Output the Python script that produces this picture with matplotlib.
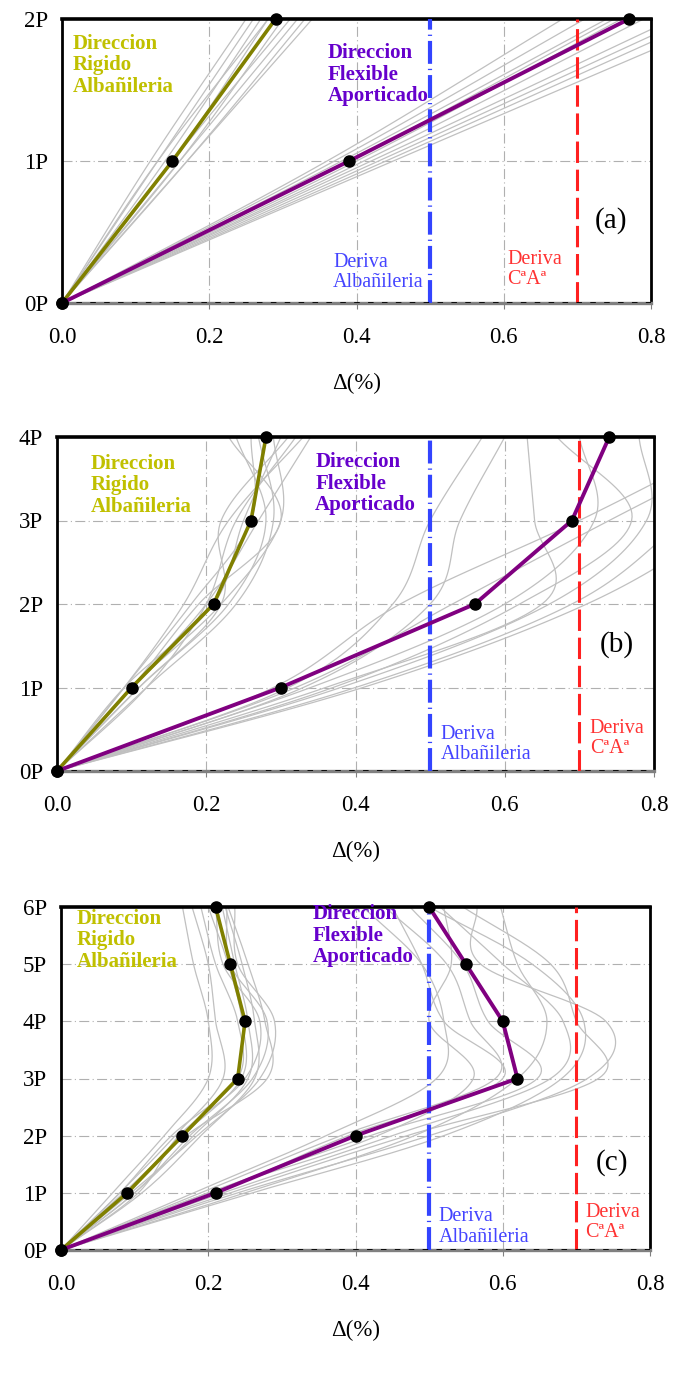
import numpy as np
import matplotlib
matplotlib.use("Agg")
import matplotlib.pyplot as plt

plt.rcParams['font.family'] = ['Liberation Serif', 'DejaVu Serif']

# ---- data: drift (%) at each level, one list per panel ----
# panel (a): 2 levels
levels_a = [0, 1, 2]
rigid_a = [0.0, 0.15, 0.29]
flex_a = [0.0, 0.39, 0.77]
gray_rigid_a = [[0.12, 0.25], [0.13, 0.26], [0.14, 0.27], [0.15, 0.28], [0.16, 0.30],
                [0.15, 0.31], [0.16, 0.32], [0.17, 0.33], [0.17, 0.34], [0.13, 0.28]]
gray_flex_a = [[0.36, 0.68], [0.37, 0.71], [0.38, 0.74], [0.39, 0.75], [0.40, 0.76],
               [0.42, 0.83], [0.43, 0.85], [0.44, 0.87], [0.45, 0.90], [0.41, 0.79]]

# panel (b): 4 levels
levels_b = [0, 1, 2, 3, 4]
rigid_b = [0.0, 0.10, 0.21, 0.26, 0.28]
flex_b = [0.0, 0.30, 0.56, 0.69, 0.74]
gray_rigid_b = [[0.09, 0.17, 0.23, 0.33], [0.10, 0.19, 0.30, 0.23], [0.11, 0.22, 0.22, 0.31],
                [0.12, 0.24, 0.29, 0.27], [0.10, 0.20, 0.27, 0.34], [0.09, 0.21, 0.25, 0.30],
                [0.11, 0.23, 0.28, 0.24], [0.12, 0.20, 0.24, 0.32], [0.10, 0.22, 0.30, 0.29],
                [0.09, 0.18, 0.26, 0.26]]
gray_flex_b = [[0.31, 0.45, 0.50, 0.57], [0.33, 0.50, 0.54, 0.60], [0.36, 0.65, 0.64, 0.63],
               [0.37, 0.62, 0.77, 0.67], [0.38, 0.66, 0.79, 0.78], [0.29, 0.46, 0.70, 0.92],
               [0.32, 0.53, 0.74, 0.96], [0.40, 0.69, 0.84, 0.98], [0.34, 0.60, 0.72, 0.70],
               [0.41, 0.71, 0.90, 1.05]]

# panel (c): 6 levels
levels_c = [0, 1, 2, 3, 4, 5, 6]
rigid_c = [0.0, 0.09, 0.165, 0.24, 0.25, 0.23, 0.21]
flex_c = [0.0, 0.21, 0.40, 0.62, 0.60, 0.55, 0.50]
gray_rigid_c = [[0.07, 0.14, 0.20, 0.20, 0.18, 0.165], [0.08, 0.155, 0.22, 0.21, 0.20, 0.178],
                [0.09, 0.165, 0.245, 0.246, 0.227, 0.20], [0.10, 0.18, 0.254, 0.254, 0.236, 0.219],
                [0.11, 0.19, 0.263, 0.263, 0.246, 0.223], [0.085, 0.17, 0.28, 0.277, 0.254, 0.227],
                [0.095, 0.185, 0.27, 0.29, 0.24, 0.236], [0.105, 0.16, 0.25, 0.27, 0.22, 0.21],
                [0.08, 0.15, 0.24, 0.24, 0.21, 0.19], [0.10, 0.175, 0.26, 0.28, 0.23, 0.225]]
gray_flex_c = [[0.18, 0.36, 0.51, 0.52, 0.49, 0.41], [0.19, 0.38, 0.59, 0.556, 0.524, 0.44],
               [0.20, 0.42, 0.647, 0.58, 0.546, 0.474], [0.22, 0.45, 0.665, 0.682, 0.60, 0.515],
               [0.23, 0.47, 0.73, 0.70, 0.665, 0.546], [0.24, 0.50, 0.715, 0.74, 0.57, 0.565],
               [0.25, 0.48, 0.62, 0.66, 0.62, 0.597], [0.21, 0.39, 0.60, 0.52, 0.49, 0.45],
               [0.26, 0.52, 0.68, 0.71, 0.64, 0.50], [0.20, 0.43, 0.56, 0.50, 0.53, 0.52]]

x_ticks = [0.0, 0.2, 0.4, 0.6, 0.8]
x_ticklabels = ["0.0", "0.2", "0.4", "0.6", "0.8"]
limit_alb = 0.5
limit_ca = 0.7


def smooth(px, py, n=24):
    # catmull-rom, like the smoothed lines of the spreadsheet
    P = np.column_stack([px, py]).astype(float)
    P = np.vstack([2 * P[0] - P[1], P, 2 * P[-1] - P[-2]])
    out = []
    t = np.linspace(0, 1, n)[:, None]
    for i in range(1, len(P) - 2):
        p0, p1, p2, p3 = P[i - 1], P[i], P[i + 1], P[i + 2]
        seg = 0.5 * (2 * p1 + (-p0 + p2) * t + (2 * p0 - 5 * p1 + 4 * p2 - p3) * t ** 2
                     + (-p0 + 3 * p1 - 3 * p2 + p3) * t ** 3)
        out.append(seg)
    return np.vstack(out)


# panel settings: axes rect, levels, data, text positions
panels = [
    dict(rect=[62 / 682, 1 - 303 / 1387, 589 / 682, 284 / 1387], levels=levels_a,
         rigid=rigid_a, flex=flex_a, grig=gray_rigid_a, gflex=gray_flex_a, tag="(a)",
         t_rig=(0.015, 1.676), t_flex=(0.361, 1.606), t_alb=(0.368, 0.215),
         t_ca=(0.605, 0.236), t_tag=(0.746, 0.58)),
    dict(rect=[57 / 682, 1 - 771 / 1387, 597 / 682, 334 / 1387], levels=levels_b,
         rigid=rigid_b, flex=flex_b, grig=gray_rigid_b, gflex=gray_flex_b, tag="(b)",
         t_rig=(0.045, 3.42), t_flex=(0.346, 3.44), t_alb=(0.514, 0.32),
         t_ca=(0.714, 0.39), t_tag=(0.75, 1.52)),
    dict(rect=[61 / 682, 1 - 1250 / 1387, 589 / 682, 343 / 1387], levels=levels_c,
         rigid=rigid_c, flex=flex_c, grig=gray_rigid_c, gflex=gray_flex_c, tag="(c)",
         t_rig=(0.021, 5.42), t_flex=(0.342, 5.50), t_alb=(0.513, 0.40),
         t_ca=(0.712, 0.485), t_tag=(0.748, 1.53)),
]

fig = plt.figure(figsize=(6.82, 13.87), dpi=100)

for p in panels:
    ax = fig.add_axes(p["rect"])
    lv = p["levels"]
    top = lv[-1]

    for g in p["grig"] + p["gflex"]:
        pts = smooth([0.0] + g, lv)
        ax.plot(pts[:, 0], pts[:, 1], color="#c0c0c0", lw=0.9, zorder=2)

    ax.axvline(limit_alb, color="#3344ff", lw=3, dashes=(5.5, 1.2, 0.3, 1.2), zorder=3)
    ax.axvline(limit_ca, color="#ff2020", lw=2.2, dashes=(7, 2.2), zorder=3)

    ax.plot(p["rigid"], lv, color="#808000", lw=2.6, marker="o", ms=8,
            mfc="black", mec="black", zorder=5, clip_on=False)
    ax.plot(p["flex"], lv, color="#800080", lw=2.8, marker="o", ms=8,
            mfc="black", mec="black", zorder=5, clip_on=False)

    ax.axhline(0, color="black", lw=2, dashes=(2, 3), zorder=4)

    ax.set_xlim(0, 0.8)
    ax.set_ylim(0, top)
    ax.set_xticks(x_ticks)
    ax.set_xticklabels(x_ticklabels)
    ax.set_yticks(lv)
    ax.set_yticklabels(["%dP" % v for v in lv])
    ax.tick_params(axis="x", labelsize=16.5, length=4, color="#808080", pad=13)
    ax.tick_params(axis="y", labelsize=16.5, length=0, pad=10)
    ax.grid(True, color="#b0b0b0", lw=0.8, linestyle=(0, (9, 3, 1, 3)), zorder=1)
    ax.set_axisbelow(True)
    ax.set_xlabel("Δ(%)", fontsize=16.5, labelpad=18)

    ax.spines["top"].set_linewidth(2.6)
    ax.spines["right"].set_linewidth(2.0)
    ax.spines["left"].set_linewidth(2.0)
    ax.spines["bottom"].set_linewidth(2.4)
    ax.spines["bottom"].set_color("#808080")

    ax.text(p["t_rig"][0], p["t_rig"][1], "Direccion\nRigido\nAlbañileria", color="#c0c000",
            fontsize=15, fontweight="bold", va="center", ha="left", linespacing=1.1, zorder=6)
    ax.text(p["t_flex"][0], p["t_flex"][1], "Direccion\nFlexible\nAporticado", color="#6600cc",
            fontsize=15, fontweight="bold", va="center", ha="left", linespacing=1.1, zorder=6)
    ax.text(p["t_alb"][0], p["t_alb"][1], "Deriva\nAlbañileria", color="#4444ff",
            fontsize=14.5, va="center", ha="left", linespacing=1.1, zorder=6)
    ax.text(p["t_ca"][0], p["t_ca"][1], "Deriva\nCªAª", color="#ff3333",
            fontsize=14.5, va="center", ha="left", linespacing=1.1, zorder=6)
    ax.text(p["t_tag"][0], p["t_tag"][1], p["tag"], fontsize=21, va="center", ha="center", zorder=6)

fig.savefig("out.png", dpi=100)
